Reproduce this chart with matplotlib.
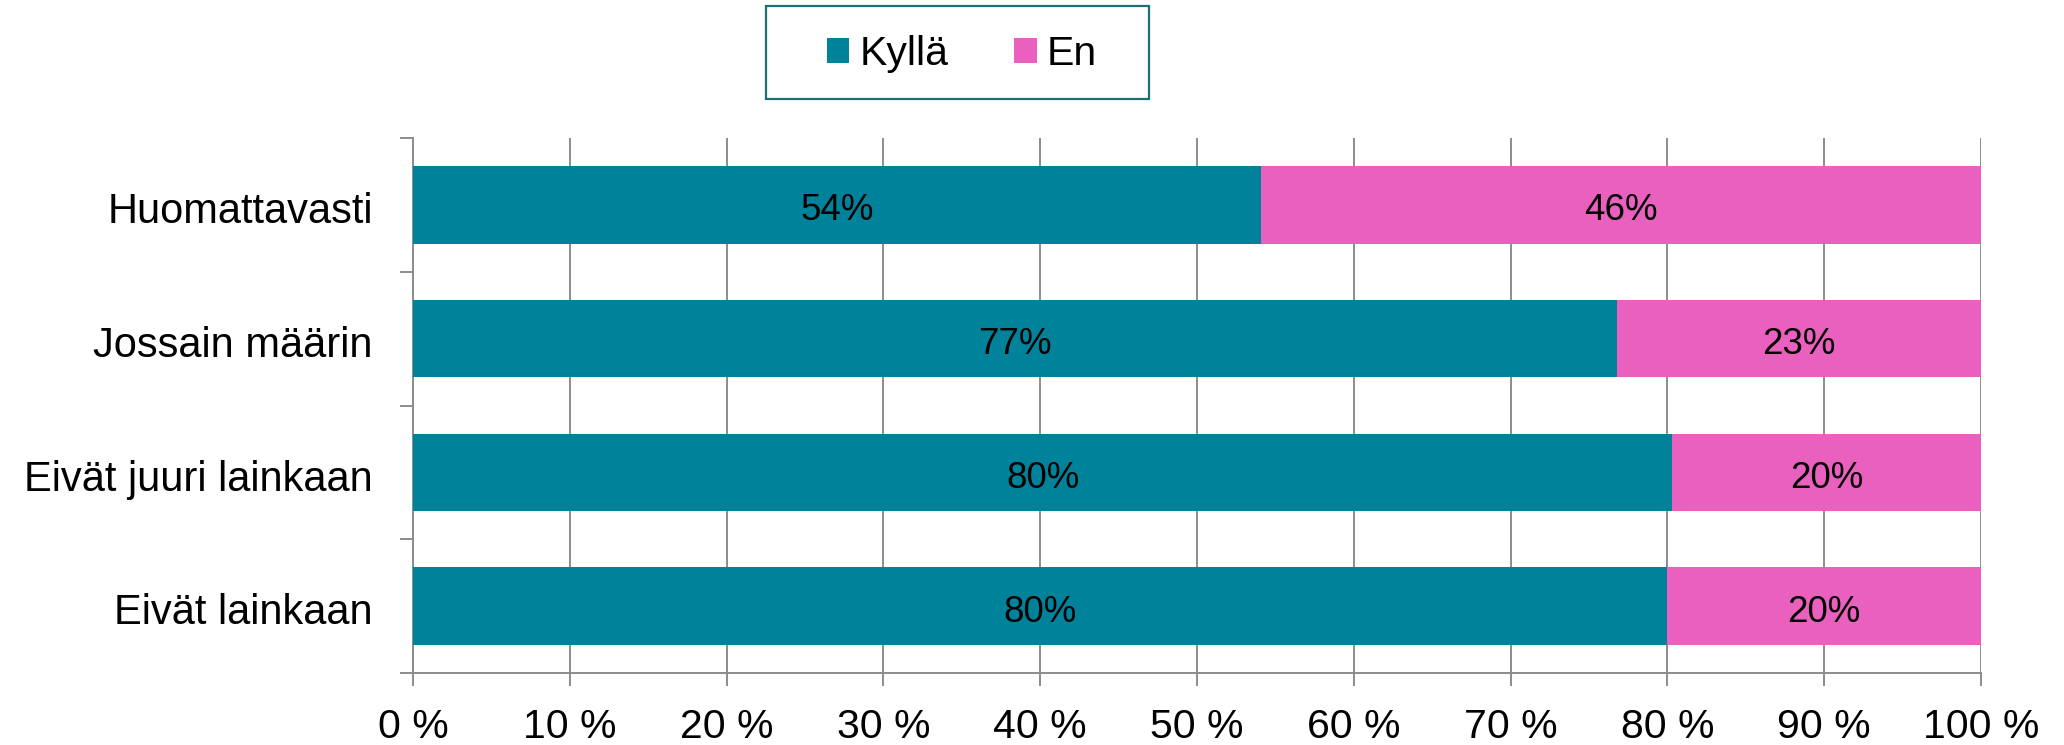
import matplotlib
matplotlib.use("Agg")
import matplotlib.pyplot as plt
from matplotlib.patches import Patch, Rectangle
import numpy as np

plt.rcParams['font.family'] = ['Liberation Sans', 'DejaVu Sans']

categories = ["Huomattavasti", "Jossain määrin", "Eivät juuri lainkaan", "Eivät lainkaan"]
kylla = [54.1, 76.8, 80.3, 80.0]
en = [45.9, 23.2, 19.7, 20.0]
kylla_labels = ["54%", "77%", "80%", "80%"]
en_labels = ["46%", "23%", "20%", "20%"]
series_names = ["Kyllä", "En"]
xticks = list(range(0, 101, 10))
xtick_labels = [f"{v} %" for v in xticks]

teal = "#00829B"
pink = "#E960BF"
grid_c = "#8C8C8C"

fig = plt.figure(figsize=(20.64, 7.45), dpi=100)
ax = fig.add_axes([413/2064, 1-673/745, (1981-413)/2064, (673-138)/745])

y = np.arange(len(categories))
h = 0.58
ax.barh(y, kylla, height=h, color=teal, edgecolor="none", zorder=3)
ax.barh(y, en, left=kylla, height=h, color=pink, edgecolor="none", zorder=3)

for i in range(len(categories)):
    ax.text(kylla[i]/2, y[i] + 0.045, kylla_labels[i], ha="center", va="center", fontsize=26.5, color="black", zorder=4)
    ax.text(kylla[i] + en[i]/2, y[i] + 0.045, en_labels[i], ha="center", va="center", fontsize=26.5, color="black", zorder=4)

ax.set_xlim(0, 100)
ax.set_ylim(len(categories)-0.5, -0.5)
ax.set_xticks(xticks)
ax.set_xticklabels(xtick_labels, fontsize=29.5)
ax.set_yticks(y + 0.02)
ax.set_yticklabels(categories, fontsize=30)
ax.set_yticks(np.arange(-0.5, len(categories), 1), minor=True)

ax.tick_params(axis="y", which="major", length=0, pad=29)
ax.tick_params(axis="y", which="minor", length=9.4, width=1.4, color=grid_c, direction="out")
ax.tick_params(axis="x", which="major", length=9.4, width=1.4, color=grid_c, direction="out", pad=16)

ax.grid(axis="x", color=grid_c, linewidth=1.4, zorder=0)
ax.set_axisbelow(True)
for s in ["top", "right"]:
    ax.spines[s].set_visible(False)
for s in ["left", "bottom"]:
    ax.spines[s].set_color(grid_c)
    ax.spines[s].set_linewidth(1.4)

# legend box frame
fig.patches.append(Rectangle((766/2064, 1-99/745), (1149-766)/2064, (99-6)/745,
                             transform=fig.transFigure, fill=False,
                             edgecolor="#1F6E78", linewidth=1.6, zorder=5))
handles = [Patch(facecolor=teal, edgecolor="none"), Patch(facecolor=pink, edgecolor="none")]
leg = fig.legend(handles, series_names, loc="center",
                 bbox_to_anchor=(962/2064, 1-54/745),
                 ncol=2, fontsize=29.5, frameon=False,
                 handlelength=0.55, handleheight=0.55, handletextpad=0.25,
                 columnspacing=1.6, borderpad=0, borderaxespad=0)

fig.savefig("out.png", dpi=100)
